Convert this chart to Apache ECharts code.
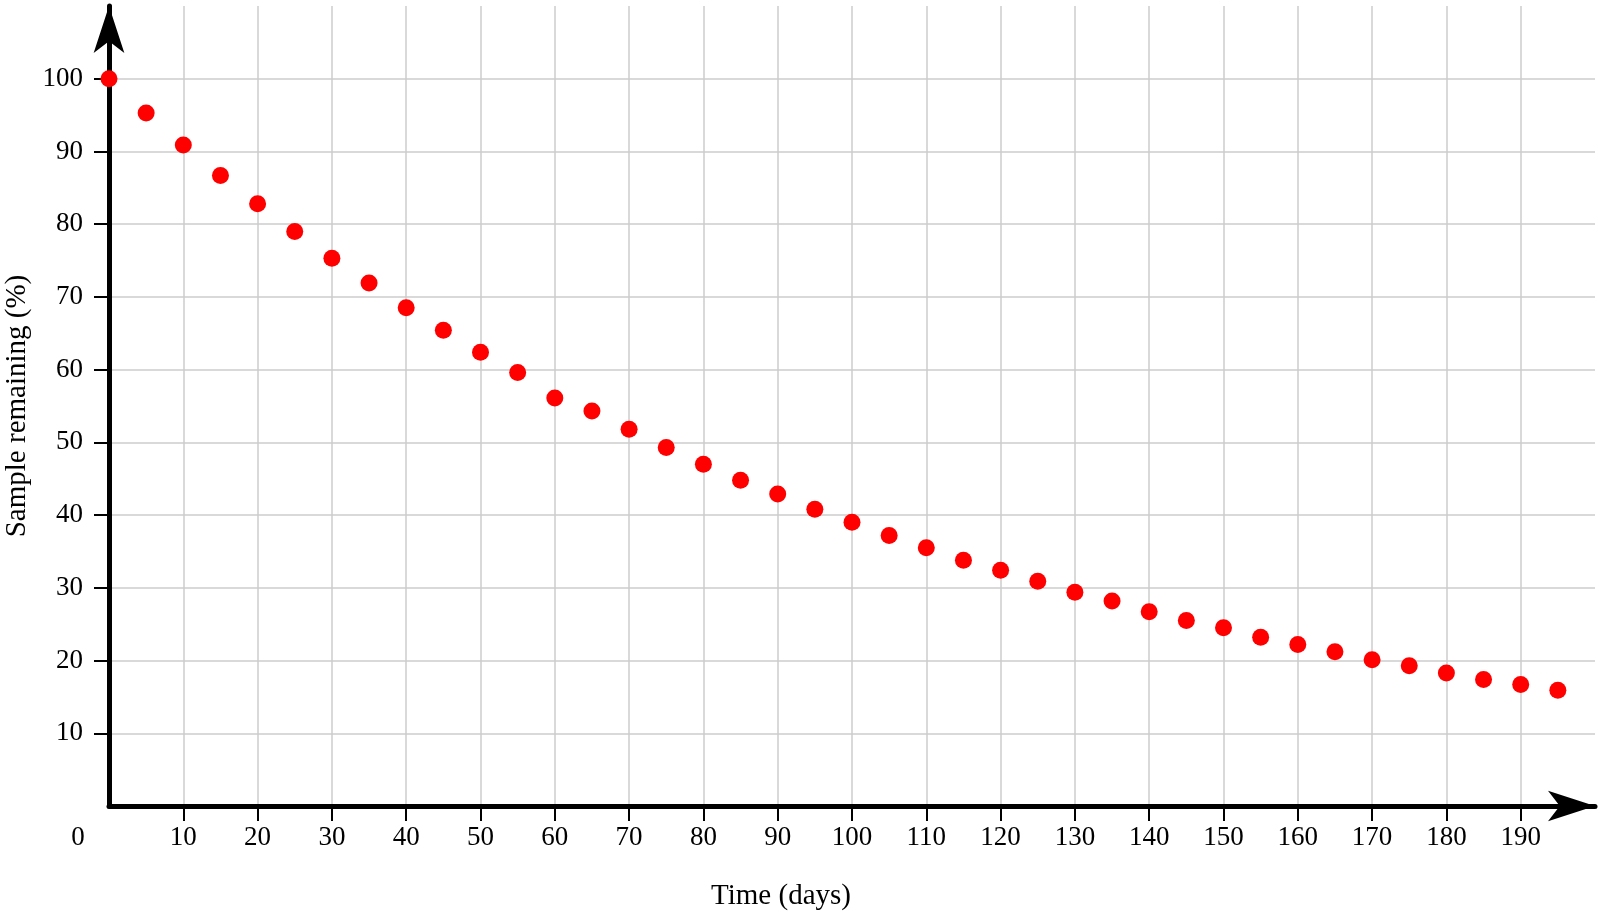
<!DOCTYPE html>
<html>
<head>
<meta charset="utf-8">
<script src="https://cdn.jsdelivr.net/npm/echarts@6/dist/echarts.min.js"></script>
<style>
  html, body { margin: 0; padding: 0; background: #fff; }
  #main { width: 1600px; height: 922px; }
</style>
</head>
<body>
<div id="main"></div>
<script>
// sample remaining vs time
const days = [0, 5, 10, 15, 20, 25, 30, 35, 40, 45, 50, 55, 60, 65, 70, 75, 80, 85, 90, 95,
    100, 105, 110, 115, 120, 125, 130, 135, 140, 145, 150, 155, 160, 165, 170, 175, 180, 185, 190, 195];
const remaining = [100, 95.3, 90.9, 86.7, 82.8, 79.0, 75.3, 71.9, 68.5, 65.4, 62.4, 59.6, 56.1, 54.3, 51.8, 49.3, 47.0, 44.8, 42.9, 40.8,
    39.0, 37.2, 35.5, 33.8, 32.4, 30.9, 29.4, 28.2, 26.7, 25.5, 24.5, 23.2, 22.2, 21.2, 20.1, 19.3, 18.3, 17.4, 16.7, 15.9];
const xTickLabels = [0, 10, 20, 30, 40, 50, 60, 70, 80, 90, 100, 110, 120, 130, 140, 150, 160, 170, 180, 190];
const yTickLabels = [10, 20, 30, 40, 50, 60, 70, 80, 90, 100];

const font = '"Liberation Serif", "Times New Roman", serif';

let myChart = echarts.init(document.getElementById('main'));
let option = {
    animation: false,
    grid: {
        left: 109,
        right: 5,
        top: 6,
        bottom: 116,
        outerBoundsMode: 'none'
    },
    xAxis: {
        type: 'value',
        min: 0,
        max: 200,
        interval: 10,
        name: 'Time (days)',
        nameLocation: 'middle',
        nameGap: 76,
        nameTextStyle: {
            fontFamily: font,
            fontSize: 29,
            color: '#000',
            padding: [0, 142, 0, 0]
        },
        axisLine: {
            lineStyle: { color: '#000', width: 5 },
            symbol: ['none', 'arrow'],
            symbolSize: [23, 47],
            symbolOffset: [0, 0]
        },
        axisTick: {
            show: true,
            length: 15,
            customValues: xTickLabels.slice(1),
            lineStyle: { color: '#000', width: 2 }
        },
        axisLabel: {
            margin: 18,
            customValues: xTickLabels,
            fontFamily: font,
            fontSize: 27,
            color: '#000',
            formatter: function (v) {
                return v === 0 ? '{z|0}' : String(v);
            },
            rich: {
                z: {
                    fontFamily: font,
                    fontSize: 27,
                    color: '#000',
                    padding: [0, 62, 0, 0]
                }
            }
        },
        splitLine: {
            lineStyle: { color: '#cccccc', width: 1.5 }
        }
    },
    yAxis: {
        type: 'value',
        min: 0,
        max: 110,
        interval: 10,
        name: 'Sample remaining (%)',
        nameLocation: 'middle',
        nameGap: 71,
        nameTextStyle: {
            fontFamily: font,
            fontSize: 29,
            color: '#000'
        },
        axisLine: {
            show: true,
            lineStyle: { color: '#000', width: 5 },
            symbol: ['none', 'arrow'],
            symbolSize: [23, 47],
            symbolOffset: [0, 0]
        },
        axisTick: {
            show: true,
            length: 15,
            customValues: yTickLabels,
            lineStyle: { color: '#000', width: 2 }
        },
        axisLabel: {
            margin: 26,
            customValues: yTickLabels,
            fontFamily: font,
            fontSize: 27,
            color: '#000'
        },
        splitLine: {
            lineStyle: { color: '#cccccc', width: 1.5 }
        }
    },
    series: [
        {
            type: 'scatter',
            data: days.map((d, i) => [d, remaining[i]]),
            symbol: 'circle',
            symbolSize: 17,
            itemStyle: { color: '#ff0000', opacity: 1 }
        }
    ]
};
myChart.setOption(option);
</script>
</body>
</html>
